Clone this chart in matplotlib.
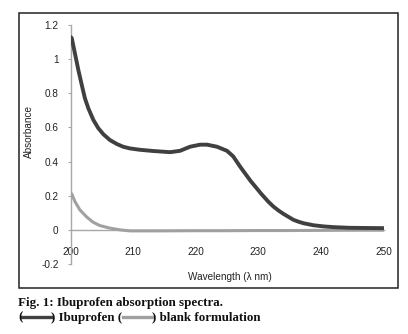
import matplotlib
matplotlib.use("Agg")
import matplotlib.pyplot as plt
from matplotlib.patches import Rectangle
from matplotlib.lines import Line2D

# Data
ibu_wl = [200.0, 200.2, 200.7, 201.25, 201.8, 202.3, 202.85, 203.65, 204.45, 205.25, 206.3, 207.4,
          208.4, 209.5, 211.1, 213.2, 215.9, 217.5, 219.1, 220.7, 221.8, 223.4, 225.0, 226.0,
          227.1, 228.0, 228.8, 229.6, 230.4, 231.6, 232.4, 233.2, 234.0, 235.6, 236.4, 237.2,
          238.8, 240.5, 242.0, 244.6, 247.0, 250.0]
ibu_abs = [1.13, 1.123, 1.035, 0.937, 0.849, 0.771, 0.712, 0.644, 0.595, 0.56, 0.526, 0.503,
           0.487, 0.477, 0.469, 0.462, 0.455, 0.463, 0.487, 0.499, 0.499, 0.487, 0.463, 0.43,
           0.37, 0.325, 0.285, 0.25, 0.214, 0.165, 0.137, 0.114, 0.094, 0.059, 0.048, 0.039,
           0.027, 0.02, 0.016, 0.012, 0.011, 0.01]
blank_wl = [200.0, 200.2, 200.7, 201.5, 202.6, 203.6, 204.7, 206.3, 207.9, 209.5, 214, 220,
            225, 230, 235, 240, 245, 250]
blank_abs = [0.215, 0.211, 0.166, 0.117, 0.075, 0.045, 0.025, 0.01, 0.0, -0.006, -0.006, -0.005,
             -0.005, -0.004, -0.004, -0.003, -0.002, -0.002]
xticks = [200, 210, 220, 230, 240, 250]
yticks = [-0.2, 0, 0.2, 0.4, 0.6, 0.8, 1, 1.2]
ytick_labels = ["-0.2", "0", "0.2", "0.4", "0.6", "0.8", "1", "1.2"]

W, H = 408, 334
fig = plt.figure(figsize=(W / 100, H / 100), dpi=100)
plt.rcParams['font.family'] = ['Liberation Sans', 'DejaVu Sans']

# outer frame
fig.add_artist(Rectangle((19 / W, 46 / H), (398 - 19) / W, (288 - 13) / H, transform=fig.transFigure,
                         fill=False, edgecolor='#222222', linewidth=1.1))

ax = fig.add_axes([70.5 / W, 70 / H, (383.5 - 70.5) / W, (309 - 70) / H])
ax.plot(blank_wl, blank_abs, color='#a0a0a0', linewidth=2.2, solid_capstyle='round',
        solid_joinstyle='round', zorder=3)
ax.plot(ibu_wl, ibu_abs, color='#404040', linewidth=2.8, solid_capstyle='round',
        solid_joinstyle='round', zorder=4)
ax.set_xlim(200, 250)
ax.set_ylim(-0.2, 1.2)
for s in ['top', 'right']:
    ax.spines[s].set_visible(False)
ax.spines['bottom'].set_position(('data', 0))
ax.spines['bottom'].set_color('#a8a8a8')
ax.spines['left'].set_color('#a8a8a8')
ax.spines['bottom'].set_linewidth(1.0)
ax.spines['left'].set_linewidth(1.0)
ax.set_xticks(xticks)
ax.set_xticklabels([str(t) for t in xticks])
ax.set_yticks(yticks)
ax.set_yticklabels(ytick_labels)
ax.tick_params(axis='x', length=0, pad=12, labelsize=7.2, labelcolor='#222222')
ax.tick_params(axis='y', length=2.5, width=0.8, color='#a8a8a8', pad=6, labelsize=7.2, labelcolor='#222222')
ax.set_facecolor('none')

fig.text(29 / W, 1 - 132 / H, "Absorbance", rotation=90, ha='center', va='center', fontsize=7.2, color='#222222')
fig.text(230 / W, 1 - 277 / H, "Wavelength (λ nm)", ha='center', va='center', fontsize=7.2, color='#222222')

# caption
cap_kw = dict(fontsize=9.4, fontweight='bold', family=['Liberation Serif', 'DejaVu Serif'], color='#111111',
              va='baseline', ha='left')
fig.text(18 / W, 1 - 306 / H, "Fig. 1: Ibuprofen absorption spectra.", **cap_kw)

renderer = fig.canvas.get_renderer()
y2 = 1 - 320.5 / H
x = 18 / W

def put(txt):
    global x
    t = fig.text(x, y2, txt, **cap_kw)
    bb = t.get_window_extent(renderer=renderer)
    x = bb.x1 / W
    return t

def seg(length_px, color):
    global x
    ymid = 1 - 317 / H
    fig.add_artist(Line2D([x, x + length_px / W], [ymid, ymid], transform=fig.transFigure,
                          color=color, linewidth=2.4))
    x = x + length_px / W

put("(")
seg(29, '#404040')
put(") Ibuprofen (")
seg(29, '#a0a0a0')
put(") blank formulation")

fig.savefig("out.png", dpi=100)
